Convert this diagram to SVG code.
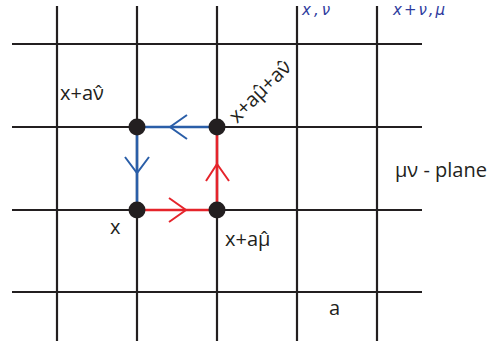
<svg xmlns="http://www.w3.org/2000/svg" width="489" height="341" viewBox="0 0 489 341">
<style>
.grid{stroke:#231f20;stroke-width:2.2;fill:none}
.blue{stroke:#2a5ea8;stroke-width:2.6;fill:none}
.red{stroke:#e5242b;stroke-width:2.6;fill:none}
.chev-b{stroke:#2a5ea8;stroke-width:2;fill:none}
.chev-r{stroke:#e5242b;stroke-width:2;fill:none}
.dot{fill:#231f20}
.lbl{font-family:"Open Sans","Liberation Sans",sans-serif;font-size:20px;fill:#231f20}
.frag{font-family:"DejaVu Sans",sans-serif;font-style:oblique;font-size:15px;fill:#2e3b9e}
</style>
<rect width="489" height="341" fill="#ffffff"/>
<g id="top-text">
<text class="frag" x="302" y="15" letter-spacing="3">x,ν</text>
<text class="frag" x="393" y="15" letter-spacing="2">x+ν,μ</text>
</g>
<g id="grid">
<line class="grid" x1="57" y1="6" x2="57" y2="341"/>
<line class="grid" x1="137" y1="6" x2="137" y2="341"/>
<line class="grid" x1="217" y1="6" x2="217" y2="341"/>
<line class="grid" x1="297" y1="6" x2="297" y2="341"/>
<line class="grid" x1="377" y1="6" x2="377" y2="341"/>
<line class="grid" x1="12" y1="44" x2="422" y2="44"/>
<line class="grid" x1="12" y1="127" x2="422" y2="127"/>
<line class="grid" x1="12" y1="210" x2="422" y2="210"/>
<line class="grid" x1="12" y1="292" x2="422" y2="292"/>
</g>
<g id="connectors">
<line class="blue" x1="217" y1="127" x2="137" y2="127"/>
<line class="blue" x1="137" y1="127" x2="137" y2="210"/>
<line class="red" x1="137" y1="210" x2="217" y2="210"/>
<line class="red" x1="217" y1="210" x2="217" y2="127"/>
<polyline class="chev-b" points="187,115 170,127 187,139"/>
<polyline class="chev-b" points="125,157 137,173 149,157"/>
<polyline class="chev-r" points="169,198 186,210 169,222"/>
<polyline class="chev-r" points="206,181 217,164 229,181"/>
</g>
<g id="node-x">
<circle class="dot" cx="137" cy="210" r="8.5"/>
<text class="lbl" x="110" y="234">x</text>
</g>
<g id="node-xmu">
<circle class="dot" cx="217" cy="210" r="8.5"/>
<text class="lbl" x="225" y="246">x+aμ̂</text>
</g>
<g id="node-xnu">
<circle class="dot" cx="137" cy="127" r="8.5"/>
<text class="lbl" x="60" y="100">x+aν̂</text>
</g>
<g id="node-xmunu">
<circle class="dot" cx="217" cy="127" r="8.5"/>
<text class="lbl" transform="translate(237,124) rotate(-45)">x+aμ̂+aν̂</text>
</g>
<g id="labels">
<text class="lbl" x="395" y="177">μν - plane</text>
<text class="lbl" x="329" y="315">a</text>
</g>
</svg>
